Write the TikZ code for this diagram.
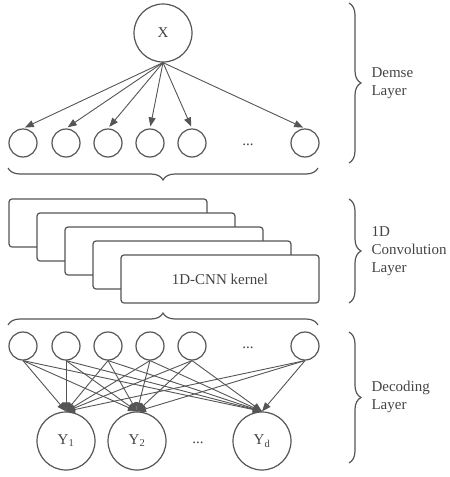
\documentclass[tikz,border=0pt]{standalone}
\usepackage{fontspec}
\setmainfont{Liberation Serif}
\usetikzlibrary{arrows.meta,decorations.pathreplacing}

\definecolor{linegray}{HTML}{555555}
\definecolor{textgray}{HTML}{444444}

\tikzset{
  every node/.style={text=textgray,font=\fontsize{15}{18}\selectfont},
  bigunit/.style={draw=linegray,circle,line width=1.2pt,minimum size=58pt,inner sep=0pt},
  unit/.style={draw=linegray,circle,line width=1.2pt,minimum size=28pt,inner sep=0pt},
  kernel/.style={draw=linegray,fill=white,rectangle,rounded corners=3pt,line width=1.2pt,minimum width=198pt,minimum height=48pt},
  wire/.style={draw=linegray,line width=0.9pt,-{Triangle[length=9pt,width=7pt]}},
  layerbrace/.style={draw=linegray,line width=1.2pt,decorate,decoration={brace,amplitude=12pt}},
  layername/.style={anchor=west,align=left}
}

\begin{document}
\begin{tikzpicture}[x=1pt,y=1pt]
    \useasboundingbox (0,0) rectangle (450,-477);

    % dense layer
    \node (x) at (163,-33) [bigunit]{X};
    \node (d1) at (23,-143) [unit]{};
    \node (d2) at (66,-143) [unit]{};
    \node (d3) at (108,-143) [unit]{};
    \node (d4) at (150,-143) [unit]{};
    \node (d5) at (192,-143) [unit]{};
    \node (dd) at (248,-145) {...};
    \node (dn) at (305,-143) [unit]{};

    \draw[wire,shorten >=2pt] (x.south) -- (d1.north);
    \draw[wire,shorten >=2pt] (x.south) -- (d2.north);
    \draw[wire,shorten >=2pt] (x.south) -- (d3.north);
    \draw[wire,shorten >=2pt] (x.south) -- (d4.north);
    \draw[wire,shorten >=2pt] (x.south) -- (d5.north);
    \draw[wire,shorten >=2pt] (x.south) -- (dn.north);

    % convolution layer
    \node (k1) at (108,-223) [kernel]{};
    \node (k2) at (136,-237) [kernel]{};
    \node (k3) at (164,-251) [kernel]{};
    \node (k4) at (192,-265) [kernel]{};
    \node (k5) at (220,-279) [kernel]{1D-CNN kernel};

    % decoding layer
    \node (h1) at (23,-346) [unit]{};
    \node (h2) at (66,-346) [unit]{};
    \node (h3) at (108,-346) [unit]{};
    \node (h4) at (150,-346) [unit]{};
    \node (h5) at (192,-346) [unit]{};
    \node (hd) at (248,-348) {...};
    \node (hn) at (305,-346) [unit]{};

    \node (y1) at (66,-441) [bigunit]{Y\textsubscript{1}};
    \node (y2) at (137,-441) [bigunit]{Y\textsubscript{2}};
    \node (yd) at (198,-443) {...};
    \node (yn) at (262,-441) [bigunit]{Y\textsubscript{d}};

    \draw[wire] (h1.south) -- (y1.north); \draw[wire] (h1.south) -- (y2.north); \draw[wire] (h1.south) -- (yn.north);
    \draw[wire] (h2.south) -- (y1.north); \draw[wire] (h2.south) -- (y2.north); \draw[wire] (h2.south) -- (yn.north);
    \draw[wire] (h3.south) -- (y1.north); \draw[wire] (h3.south) -- (y2.north); \draw[wire] (h3.south) -- (yn.north);
    \draw[wire] (h4.south) -- (y1.north); \draw[wire] (h4.south) -- (y2.north); \draw[wire] (h4.south) -- (yn.north);
    \draw[wire] (h5.south) -- (y1.north); \draw[wire] (h5.south) -- (y2.north); \draw[wire] (h5.south) -- (yn.north);
    \draw[wire] (hn.south) -- (y1.north); \draw[wire] (hn.south) -- (y2.north); \draw[wire] (hn.south) -- (yn.north);

    % braces
    \coordinate (b1) at (349,-3);   \coordinate (b2) at (349,-163);
    \coordinate (b3) at (318,-168); \coordinate (b4) at (8,-168);
    \coordinate (b5) at (349,-199); \coordinate (b6) at (349,-303);
    \coordinate (b7) at (8,-325);   \coordinate (b8) at (318,-325);
    \coordinate (b9) at (349,-332); \coordinate (b10) at (349,-463);

    \draw[layerbrace] (b1) -- (b2);
    \draw[layerbrace] (b3) -- (b4);
    \draw[layerbrace] (b5) -- (b6);
    \draw[layerbrace] (b7) -- (b8);
    \draw[layerbrace] (b9) -- (b10);

    \node (l1) at (368,-83) [layername]{Demse\\Layer};
    \node (l2) at (368,-251) [layername]{1D\\Convolution\\Layer};
    \node (l3) at (368,-397) [layername]{Decoding\\Layer};

  \end{tikzpicture}
\end{document}
